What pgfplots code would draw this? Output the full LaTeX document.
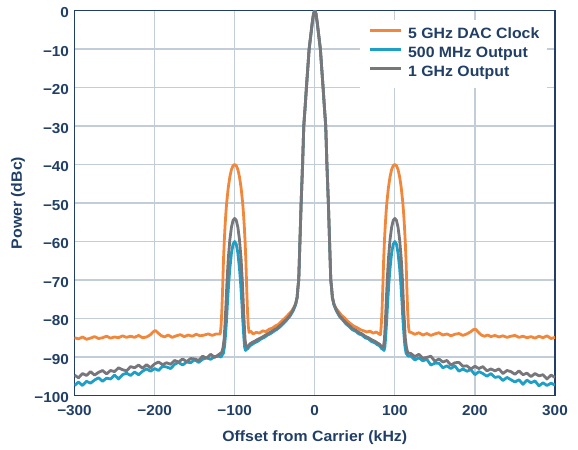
\documentclass[border=0pt]{standalone}
\usepackage{fontspec}
\setmainfont{Liberation Sans}[FakeStretch=1.06]
\usepackage{pgfplots}
\pgfplotsset{compat=1.18}
\definecolor{navy}{HTML}{213F66}
\definecolor{gridc}{HTML}{C3CDD8}
\definecolor{orng}{HTML}{F0873A}
\definecolor{blu}{HTML}{1E9FC6}
\definecolor{gry}{HTML}{76767B}
\begin{document}
\begin{tikzpicture}
\path[use as bounding box] (-74.5bp,-54.5bp) rectangle (503.5bp,395.5bp);
\begin{axis}[
  at={(0,0)}, anchor=south west, scale only axis,
  width=480.5bp, height=385bp,
  xmin=-300, xmax=300, ymin=-100, ymax=0,
  xtick={-300,-200,...,300},
  xticklabels={−300,−200,−100,0,100,200,300},
  ytick={-100,-90,...,0},
  yticklabels={−100,−90,−80,−70,−60,−50,−40,−30,−20,−10,0},
  major tick length=0pt,
  grid=major,
  major grid style={gridc, line width=1.2bp},
  axis line style={navy, line width=1.6bp},
  tick label style={text=navy, font=\fontsize{14.5}{17}\selectfont\bfseries},
  xticklabel style={anchor=north, yshift=-6bp},
  yticklabel style={anchor=east, xshift=-2bp, yshift=-2.5bp},
  xlabel={Offset from Carrier (kHz)},
  ylabel={Power (dBc)},
  label style={text=navy, font=\fontsize{15}{18}\selectfont\bfseries},
  xlabel style={at={(axis description cs:0.5,0)}, anchor=center, yshift=-42.5bp},
  ylabel style={at={(axis description cs:-0.1176,0.5)}, anchor=center},
  legend style={at={(axis description cs:0.6108,1)}, anchor=north west,
     xshift=-8bp, yshift=-9bp, draw=none, fill=white, inner sep=8bp,
     font=\fontsize{15}{18}\selectfont\bfseries, text=navy,
     nodes={inner sep=0pt, text height=11bp, text depth=3bp},
     row sep=5bp, column sep=6bp},
  legend cell align=left,
  legend image code/.code={\draw[#1, line width=3bp] (-3bp,4bp) -- (28bp,4bp);},
  every axis plot/.append style={line width=2.8bp, line join=round},
]
% 5 GHz DAC Clock
\addplot[orng] coordinates {
(-300,-85.0) (-295,-85.3) (-290,-84.8) (-285,-85.4) (-280,-85.1) (-275,-84.7) (-270,-85.2) (-265,-85.0) (-260,-84.6) (-255,-85.1) (-250,-84.8) (-245,-85.0) (-240,-84.5) (-235,-84.9) (-230,-84.6) (-225,-84.9) (-220,-84.4) (-215,-85.0) (-210,-84.8) (-205,-84.2) (-202,-83.5) (-199,-83.1) (-196,-83.7) (-192,-84.4) (-188,-84.8) (-183,-84.3) (-178,-84.9) (-173,-84.5) (-168,-84.2) (-163,-84.7) (-158,-84.3) (-153,-84.6) (-148,-84.1) (-143,-84.5) (-138,-84.3) (-133,-84.0) (-128,-84.4) (-123,-84.0) (-119,-84.0)
(-118,-84) (-117,-82) (-116,-78) (-115,-72) (-114,-65) (-113,-60) (-112,-56) (-111,-52.7) (-110,-50) (-108,-46) (-106,-43.2) (-104,-41.3) (-102,-40.3) (-100,-40) (-98,-40.3) (-96,-41.3) (-94,-43.2) (-92,-46) (-90,-50) (-89,-52.7) (-88,-56) (-87,-60) (-86,-65) (-85,-72) (-84,-78) (-83,-82) (-82,-83.6)
(-80,-83.3) (-77,-84.0) (-73,-83.6) (-69,-83.8) (-65,-83.2) (-61,-83.4) (-57,-82.8) (-53,-82.5) (-49,-81.9) (-45,-81.5) (-41,-80.6) (-37,-79.9) (-33,-79.0) (-29,-78.1) (-26,-77.1) (-23.5,-76.0)
(-22,-74.5) (-21,-72) (-20,-70) (-18.5,-60) (-17,-50) (-15.2,-40) (-13.7,-30) (-12,-25) (-10.4,-20) (-8.7,-15) (-7,-10) (-5,-6.5) (-3,-3) (-1.5,-0.8) (0,0) (1.5,-0.8) (3,-3) (5,-6.5) (7,-10) (8.7,-15) (10.4,-20) (12,-25) (13.7,-30) (15.2,-40) (17,-50) (18.5,-60) (20,-70) (21,-72) (22,-74.5)
(23.5,-76.0) (26,-77.2) (29,-78.0) (33,-79.1) (37,-79.8) (41,-80.7) (45,-81.4) (49,-82.0) (53,-82.4) (57,-82.9) (61,-83.2) (65,-83.5) (69,-83.3) (73,-83.8) (77,-83.5) (80,-84.0) (82,-84.2)
(83,-82) (84,-78) (85,-72) (86,-65) (87,-60) (88,-56) (89,-52.7) (90,-50) (92,-46) (94,-43.2) (96,-41.3) (98,-40.3) (100,-40) (102,-40.3) (104,-41.3) (106,-43.2) (108,-46) (110,-50) (111,-52.7) (112,-56) (113,-60) (114,-65) (115,-72) (116,-78) (117,-82) (118,-83.5)
(120,-83.6) (125,-84.1) (130,-83.7) (135,-84.3) (140,-83.9) (145,-84.4) (150,-84.0) (155,-83.7) (160,-84.3) (165,-84.0) (170,-84.5) (175,-84.1) (180,-83.9) (185,-84.4) (190,-84.0) (195,-83.4) (198,-82.9) (201,-82.8) (204,-83.5) (208,-84.3) (212,-84.6) (216,-84.3) (220,-84.7) (225,-84.4) (230,-84.8) (235,-84.5) (240,-84.9) (245,-84.6) (250,-84.4) (255,-84.9) (260,-84.6) (265,-85.0) (270,-84.7) (275,-85.1) (280,-84.6) (285,-85.0) (290,-84.5) (295,-85.2) (300,-84.9)
};
\addlegendentry{5 GHz DAC Clock}
% 500 MHz Output
\addplot[blu] coordinates {
(-300,-97.4) (-295,-96.5) (-290,-97.4) (-285,-96.3) (-280,-96.8) (-275,-96.0) (-270,-95.4) (-265,-96.3) (-260,-95.5) (-255,-95.7) (-250,-94.7) (-245,-95.7) (-240,-94.6) (-235,-94.2) (-230,-94.8) (-225,-93.9) (-220,-94.6) (-215,-93.7) (-210,-93.1) (-205,-93.7) (-200,-93.0) (-195,-93.5) (-190,-92.4) (-185,-92.6) (-180,-93.0) (-175,-91.9) (-170,-91.4) (-165,-92.1) (-160,-91.3) (-155,-91.5) (-150,-90.7) (-145,-91.4) (-140,-90.6) (-135,-90.2) (-130,-90.6) (-125,-89.9) (-120,-89.8)
(-117,-90.0) (-116,-89.6) (-114,-89.0) (-112.5,-87) (-111.5,-84.5) (-110,-80) (-109,-76) (-107.5,-71) (-106,-67) (-104,-63) (-102,-60.7) (-100,-60) (-98,-60.7) (-96,-63) (-94,-67) (-92.5,-71) (-91,-76) (-90,-80) (-88.5,-85) (-87.5,-87.5) (-86.5,-88.3) (-85,-88.0)
(-83.5,-87.8) (-81,-87.1) (-78,-86.7) (-75,-86.3) (-71,-85.9) (-67,-85.3) (-63,-84.9) (-59,-84.3) (-55,-83.9) (-51,-83.3) (-47,-82.8) (-43,-82.1) (-39,-81.3) (-35,-80.4) (-31,-79.4) (-27,-78.0) (-24,-76.5)
(-22,-74.5) (-21,-72) (-20,-70) (-18.5,-60) (-17,-50) (-15.2,-40) (-13.7,-30) (-12,-25) (-10.4,-20) (-8.7,-15) (-7,-10) (-5,-6.5) (-3,-3) (-1.5,-0.8) (0,0) (1.5,-0.8) (3,-3) (5,-6.5) (7,-10) (8.7,-15) (10.4,-20) (12,-25) (13.7,-30) (15.2,-40) (17,-50) (18.5,-60) (20,-70) (21,-72) (22,-74.5)
(24,-76.5) (27,-78.0) (31,-79.5) (35,-80.4) (39,-81.4) (43,-82.1) (47,-82.9) (51,-83.3) (55,-84.0) (59,-84.3) (63,-85.0) (67,-85.3) (71,-86.0) (75,-86.3) (78,-86.8) (81,-87.1) (83.5,-87.8)
(85,-88.0) (86.5,-88.3) (87.5,-87.5) (88.5,-85) (90,-80) (91,-76) (92.5,-71) (94,-67) (96,-63) (98,-60.7) (100,-60) (102,-60.7) (104,-63) (106,-67) (107.5,-71) (109,-76) (110,-80) (111.5,-84.5) (112.5,-87) (114,-89.0) (116,-89.6) (117,-89.8)
(120,-89.7) (125,-90.8) (130,-90.2) (135,-91.0) (140,-90.6) (145,-92.1) (150,-91.6) (155,-91.6) (160,-92.8) (165,-92.3) (170,-93.0) (175,-92.3) (180,-93.7) (185,-93.1) (190,-93.7) (195,-93.3) (200,-94.6) (205,-93.8) (210,-94.3) (215,-95.0) (220,-94.3) (225,-95.3) (230,-95.1) (235,-96.1) (240,-95.3) (245,-95.9) (250,-96.5) (255,-95.9) (260,-97.1) (265,-96.0) (270,-96.7) (275,-96.2) (280,-97.5) (285,-96.7) (290,-97.4) (295,-96.8) (300,-97.3)
};
\addlegendentry{500 MHz Output}
% 1 GHz Output
\addplot[gry] coordinates {
(-300,-94.7) (-295,-95.4) (-290,-94.3) (-285,-94.8) (-280,-93.8) (-275,-94.7) (-270,-94.0) (-265,-93.5) (-260,-94.4) (-255,-93.5) (-250,-93.8) (-245,-92.8) (-240,-93.3) (-235,-93.6) (-230,-92.5) (-225,-92.8) (-220,-92.1) (-215,-92.9) (-210,-92.0) (-205,-92.8) (-200,-91.8) (-195,-91.3) (-190,-92.0) (-185,-91.5) (-180,-91.9) (-175,-90.9) (-170,-91.3) (-165,-90.5) (-160,-91.2) (-155,-90.4) (-150,-90.5) (-145,-90.9) (-140,-89.8) (-135,-90.3) (-130,-89.3) (-125,-90.1) (-120,-89.4)
(-117.5,-89.0) (-116,-88.8) (-114.5,-87.5) (-113,-85) (-112,-81) (-111,-77) (-109.5,-70) (-108,-64.5) (-106,-59.5) (-104,-56.3) (-102,-54.5) (-100,-54) (-98,-54.5) (-96,-56.3) (-94,-59.5) (-92,-64.5) (-90.5,-70) (-89,-77) (-88,-81.5) (-87,-85.5) (-86,-87) (-85,-87.5)
(-83.5,-87.3) (-81,-86.6) (-78,-86.2) (-75,-85.9) (-71,-85.4) (-67,-85.0) (-63,-84.5) (-59,-84.0) (-55,-83.5) (-51,-83.0) (-47,-82.5) (-43,-81.8) (-39,-81.0) (-35,-80.2) (-31,-79.2) (-27,-77.8) (-24,-76.3)
(-22,-74.5) (-21,-72) (-20,-70) (-18.5,-60) (-17,-50) (-15.2,-40) (-13.7,-30) (-12,-25) (-10.4,-20) (-8.7,-15) (-7,-10) (-5,-6.5) (-3,-3) (-1.5,-0.8) (0,0) (1.5,-0.8) (3,-3) (5,-6.5) (7,-10) (8.7,-15) (10.4,-20) (12,-25) (13.7,-30) (15.2,-40) (17,-50) (18.5,-60) (20,-70) (21,-72) (22,-74.5)
(24,-76.3) (27,-77.8) (31,-79.3) (35,-80.2) (39,-81.1) (43,-81.8) (47,-82.6) (51,-83.0) (55,-83.6) (59,-84.0) (63,-84.6) (67,-85.0) (71,-85.5) (75,-85.9) (78,-86.3) (81,-86.7) (83.5,-87.3)
(85,-87.5) (86,-87) (87,-85.5) (88,-81.5) (89,-77) (90.5,-70) (92,-64.5) (94,-59.5) (96,-56.3) (98,-54.5) (100,-54) (102,-54.5) (104,-56.3) (106,-59.5) (108,-64.5) (109.5,-70) (111,-77) (112,-81) (113,-85) (114.5,-87.5) (116,-88.8) (117.5,-89.0)
(120,-89.1) (125,-89.9) (130,-89.3) (135,-90.3) (140,-90.1) (145,-89.8) (150,-91.1) (155,-90.5) (160,-91.3) (165,-90.9) (170,-92.1) (175,-91.5) (180,-91.4) (185,-92.4) (190,-92.3) (195,-93.1) (200,-92.4) (205,-93.0) (210,-92.5) (215,-93.6) (220,-93.1) (225,-93.6) (230,-93.1) (235,-94.3) (240,-93.5) (245,-93.8) (250,-94.5) (255,-93.6) (260,-94.6) (265,-94.2) (270,-95.1) (275,-94.3) (280,-94.9) (285,-94.6) (290,-95.7) (295,-94.7) (300,-95.3)
};
\addlegendentry{1 GHz Output}
\end{axis}
\end{tikzpicture}
\end{document}
